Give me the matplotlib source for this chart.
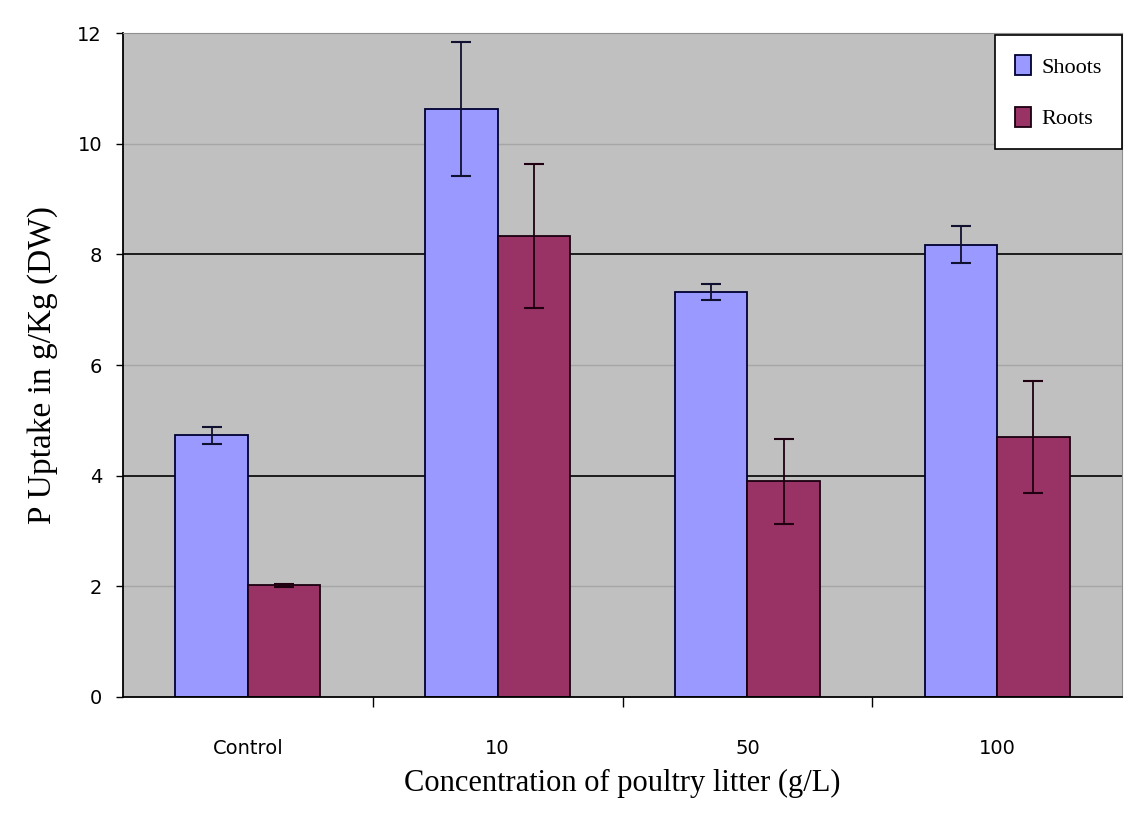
import matplotlib.pyplot as plt
import numpy as np

categories = ["Control", "10", "50", "100"]
shoots = [4.73, 10.63, 7.32, 8.18]
shoots_err = [0.15, 1.22, 0.14, 0.33]
roots = [2.02, 8.33, 3.9, 4.7]
roots_err = [0.03, 1.3, 0.77, 1.02]

fig = plt.figure(figsize=(11.3, 8.31), dpi=100)
ax = fig.add_axes([0.1088, 0.1613, 0.8842, 0.7987])
ax.set_facecolor("#c0c0c0")

x = np.arange(len(categories))
w = 0.29

# light grid lines at 2, 6, 10; dark at 4, 8
for y in [2, 6, 10]:
    ax.axhline(y, color="#a6a6a6", lw=1, zorder=0)
for y in [4, 8]:
    ax.axhline(y, color="black", lw=1.2, zorder=0)

ax.bar(x - w / 2, shoots, w, color="#9999ff", edgecolor="#000033", lw=1.3,
       label="Shoots", zorder=2)
ax.bar(x + w / 2, roots, w, color="#993366", edgecolor="#1a0010", lw=1.3,
       label="Roots", zorder=2)
ax.errorbar(x - w / 2, shoots, yerr=shoots_err, fmt="none", ecolor="#101030",
            capsize=7, elinewidth=1.3, capthick=1.5, zorder=3)
ax.errorbar(x + w / 2, roots, yerr=roots_err, fmt="none", ecolor="#200010",
            capsize=7, elinewidth=1.3, capthick=1.5, zorder=3)

ax.set_xlim(-0.5, 3.5)
ax.set_ylim(0, 12)
ax.set_yticks([0, 2, 4, 6, 8, 10, 12])
ax.set_xticks([0.5, 1.5, 2.5])
ax.set_xticklabels([])
ax.tick_params(axis="x", length=7, width=1, direction="out")
ax.set_xticks(x, minor=True)
ax.set_xticklabels(categories, minor=True)
ax.tick_params(axis="x", which="minor", length=0, pad=30, labelsize=14)
ax.tick_params(axis="y", length=5, width=1, labelsize=14, pad=10)

for s in ["top", "right"]:
    ax.spines[s].set_color("#909090")
ax.spines["left"].set_linewidth(1.3)
ax.spines["bottom"].set_linewidth(1.3)

ax.set_xlabel("Concentration of poultry litter (g/L)", fontsize=22,
              family="Liberation Serif", labelpad=8)
ax.set_ylabel("P Uptake in g/Kg (DW)", fontsize=24,
              family="Liberation Serif", labelpad=14)

leg = ax.legend(loc="upper right", bbox_to_anchor=(1.0, 0.997),
                frameon=True, fancybox=False, framealpha=1,
                edgecolor="black", borderaxespad=0, handlelength=0.7,
                handleheight=1.0, labelspacing=1.3, handletextpad=0.5,
                borderpad=0.9, prop={"family": "Liberation Serif", "size": 16})
leg.get_frame().set_linewidth(1.2)
leg.get_frame().set_facecolor("white")

fig.savefig("out.png", dpi=100)
